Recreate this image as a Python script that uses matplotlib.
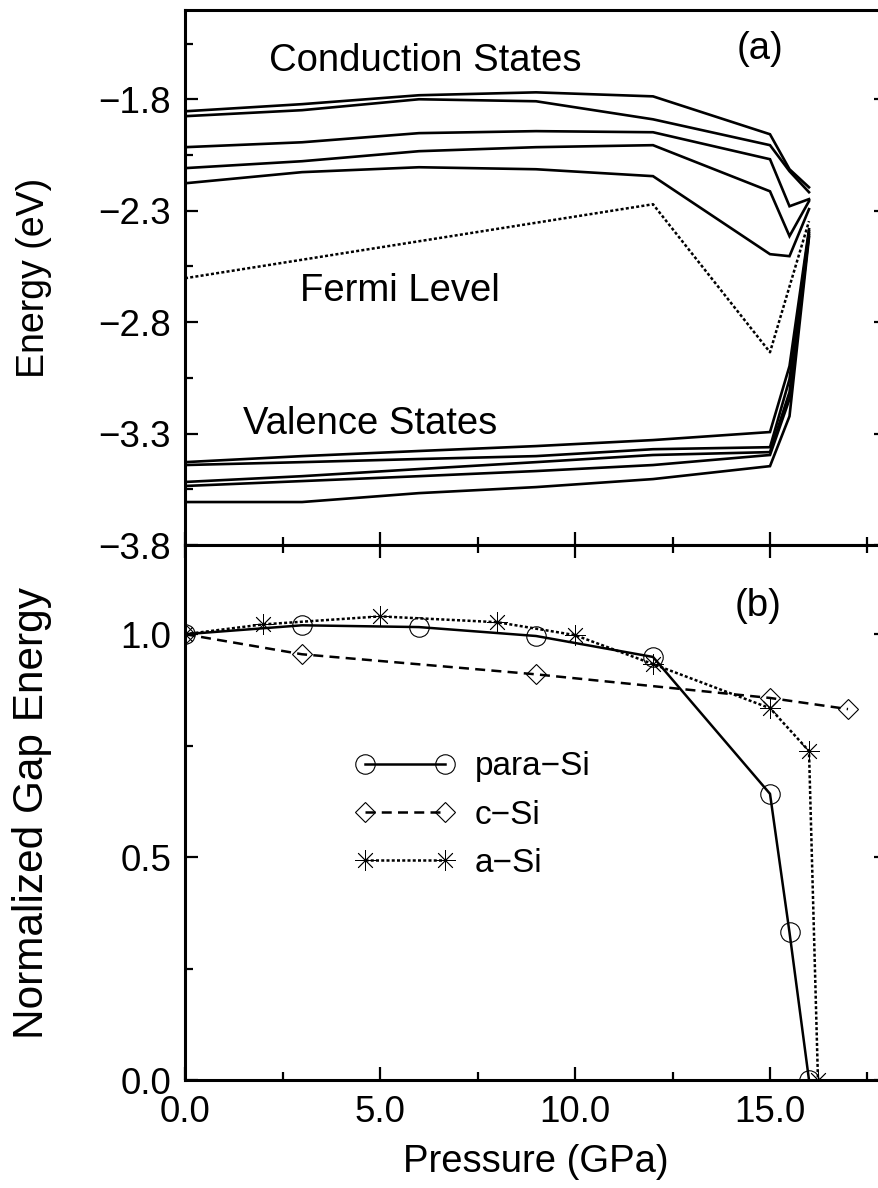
import matplotlib
matplotlib.use('Agg')
import matplotlib.pyplot as plt
from matplotlib.ticker import MultipleLocator, FixedLocator, FuncFormatter

plt.rcParams['font.family'] = ['Liberation Sans', 'DejaVu Sans']

# --- panel (a): band edges vs pressure ---
p_band = [0, 3, 6, 9, 12, 15, 15.5, 16]
cond_states = [
    [-1.854, -1.822, -1.782, -1.769, -1.787, -1.957, -2.114, -2.195],
    [-1.876, -1.849, -1.800, -1.809, -1.890, -2.006, -2.123, -2.217],
    [-2.015, -1.993, -1.952, -1.943, -1.948, -2.069, -2.280, -2.248],
    [-2.109, -2.078, -2.033, -2.015, -2.006, -2.213, -2.414, -2.257],
    [-2.177, -2.127, -2.105, -2.114, -2.145, -2.495, -2.504, -2.293],
]
val_states = [
    [-3.428, -3.401, -3.378, -3.356, -3.329, -3.293, -2.997, -2.383],
    [-3.441, -3.428, -3.414, -3.401, -3.370, -3.361, -3.056, -2.392],
    [-3.517, -3.491, -3.459, -3.428, -3.396, -3.383, -3.114, -2.401],
    [-3.535, -3.513, -3.491, -3.468, -3.441, -3.396, -3.145, -2.410],
    [-3.607, -3.607, -3.567, -3.540, -3.504, -3.446, -3.222, -2.419],
]
p_fermi = [0, 12, 15, 15.5, 16]
fermi = [-2.603, -2.271, -2.935, -2.640, -2.347]

# --- panel (b): normalized gap ---
p_para = [0, 3, 6, 9, 12, 15, 15.5, 16]
gap_para = [1.0, 1.02, 1.016, 0.996, 0.949, 0.642, 0.331, 0.0]
p_c = [0, 3, 9, 15, 17]
gap_c = [1.0, 0.955, 0.910, 0.857, 0.832]
p_a = [0, 2, 5, 8, 10, 12, 15, 16, 16.23]
gap_a = [1.0, 1.022, 1.040, 1.027, 0.998, 0.933, 0.834, 0.738, 0.0]

fs = 26.5   # tick labels
fs_txt = 27.5  # annotations
fmt = FuncFormatter(lambda v, pos: '%.1f' % v if v >= 0 else '\u2212%.1f' % -v)

fig = plt.figure(figsize=(8.79, 11.88), dpi=100)
ax1 = fig.add_axes([0.2105, 0.5412, 0.7986, 0.4503])
ax2 = fig.add_axes([0.2105, 0.0909, 0.7986, 0.4503], sharex=ax1)

for y in cond_states:
    ax1.plot(p_band, y, color='black', lw=1.9, solid_joinstyle='miter')
for y in val_states:
    ax1.plot(p_band, y, color='black', lw=1.9, solid_joinstyle='miter')
ax1.plot(p_fermi, fermi, color='black', lw=1.8, linestyle=(0, (1.2, 0.9)))

ax1.text(6.15, -1.63, 'Conduction States', fontsize=fs_txt, ha='center', va='center')
ax1.text(14.74, -1.576, '(a)', fontsize=fs_txt, ha='center', va='center')
ax1.text(5.5, -2.66, 'Fermi Level', fontsize=fs_txt, ha='center', va='center')
ax1.text(4.74, -3.257, 'Valence States', fontsize=fs_txt, ha='center', va='center')

ax1.set_xlim(0, 18)
ax1.set_ylim(-3.8, -1.4)
ax1.yaxis.set_major_locator(FixedLocator([-3.8, -3.3, -2.8, -2.3, -1.8]))
ax1.yaxis.set_minor_locator(FixedLocator([-3.55, -3.05, -2.55, -2.05, -1.55]))
ax1.yaxis.set_major_formatter(fmt)
ax1.set_ylabel('Energy (eV)', fontsize=27)

# bottom panel
star = (8, 2, 0)
ax2.plot(p_para, gap_para, color='black', lw=1.8, marker='o', ms=14,
         mfc='none', mec='black', mew=0.8, label='para\u2212Si')
ax2.plot(p_c, gap_c, color='black', lw=1.8, linestyle=(0, (4, 2.5)),
         marker='D', ms=10, mfc='none', mec='black', mew=0.8, label='c\u2212Si')
ax2.plot(p_a, gap_a, color='black', lw=1.8, linestyle=(0, (1.2, 0.9)),
         marker=star, ms=15, mec='black', mew=0.6, label='a\u2212Si')

ax2.text(14.7, 1.063, '(b)', fontsize=fs_txt, ha='center', va='center')

ax2.set_ylim(0, 1.2)
ax2.yaxis.set_major_locator(FixedLocator([0.0, 0.5, 1.0]))
ax2.yaxis.set_minor_locator(FixedLocator([0.25, 0.75]))
ax2.yaxis.set_major_formatter(fmt)
ax2.xaxis.set_major_locator(MultipleLocator(5))
ax2.xaxis.set_minor_locator(MultipleLocator(2.5))
ax2.xaxis.set_major_formatter(fmt)
ax2.set_xlabel('Pressure (GPa)', fontsize=27.5, labelpad=10)
ax2.set_ylabel('Normalized Gap Energy', fontsize=30.5)

leg = ax2.legend(loc='center left', bbox_to_anchor=(0.242, 0.495), frameon=False,
                 fontsize=24, numpoints=2, handlelength=3.0, handletextpad=0.6,
                 labelspacing=0.52, borderpad=0, borderaxespad=0)

for ax in (ax1, ax2):
    for s in ax.spines.values():
        s.set_linewidth(2.2)
    ax.tick_params(which='both', direction='in', right=True, width=1.6,
                   labelsize=fs)
    ax.tick_params(which='major', length=9.5, pad=10)
    ax.tick_params(which='minor', length=6)
    ax.yaxis.set_label_coords(-0.19, 0.5)
ax1.tick_params(which='both', top=False, bottom=True, labelbottom=False)
ax2.tick_params(which='both', top=True, bottom=True)
ax2.tick_params(axis='x', which='major', pad=11)

fig.savefig('out.png', dpi=100)
